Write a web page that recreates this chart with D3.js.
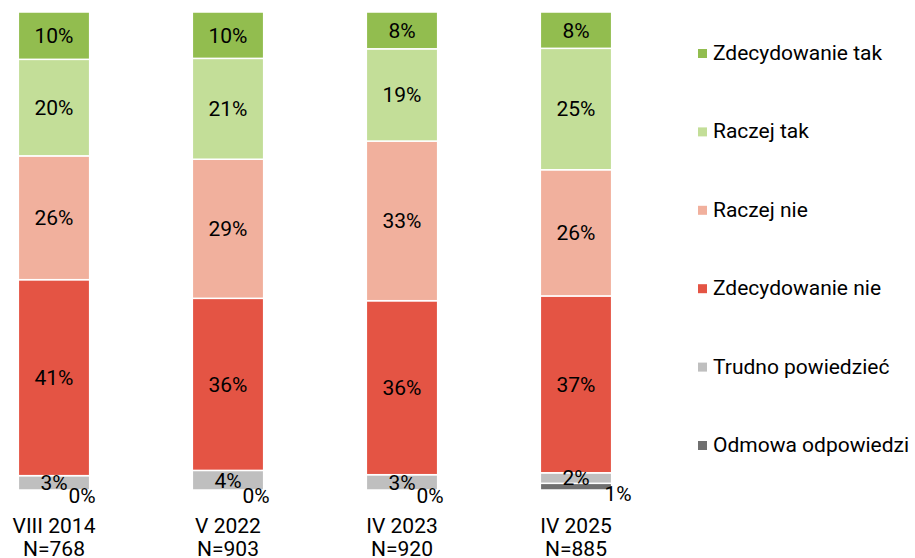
<!DOCTYPE html>
<html>
<head>
<meta charset="utf-8">
<script src="https://cdn.jsdelivr.net/npm/d3@7"></script>
<style>
  body { margin: 0; background: #fff; }
  svg { display: block; font-family: Roboto, sans-serif; }
</style>
</head>
<body>
<div id="chart"></div>
<script>
// survey waves (two-line labels)
const waves = ["VIII 2014", "V 2022", "IV 2023", "IV 2025"];
const samples = ["N=768", "N=903", "N=920", "N=885"];

const answers = ["Zdecydowanie tak", "Raczej tak", "Raczej nie", "Zdecydowanie nie", "Trudno powiedzieć", "Odmowa odpowiedzi"];

// shares in %, one array per answer, in wave order
const zdecydowanieTak = [9.9, 9.7, 7.7, 7.6];
const raczejTak       = [20.2, 21.1, 19.3, 25.4];
const raczejNie       = [25.9, 29.1, 33.4, 26.4];
const zdecydowanieNie = [41.0, 36.0, 36.4, 37.0];
const trudno          = [3.0, 4.1, 3.2, 2.2];
const odmowa          = [0.0, 0.0, 0.0, 1.4];

const colors = ["#92bd4f", "#c3de98", "#f1b09d", "#e45444", "#bfbfbf", "#707070"];

const width = 915, height = 558;
const fontSize = 21;

const rows = waves.map((w, i) => ({
  wave: w,
  n: samples[i],
  [answers[0]]: zdecydowanieTak[i],
  [answers[1]]: raczejTak[i],
  [answers[2]]: raczejNie[i],
  [answers[3]]: zdecydowanieNie[i],
  [answers[4]]: trudno[i],
  [answers[5]]: odmowa[i]
}));

// stack from the bottom: last answer first
const stackKeys = answers.slice().reverse();
const series = d3.stack().keys(stackKeys)(rows);

const x = d3.scaleBand()
  .domain(waves)
  .range([-33, 663])
  .paddingInner(0.59)
  .paddingOuter(0.295);

const y = d3.scaleLinear().domain([0, 100]).range([490, 12]);

const color = d3.scaleOrdinal().domain(answers).range(colors);
const fmt = v => d3.format(".0f")(v) + "%";

const svg = d3.select("#chart").append("svg")
  .attr("width", width)
  .attr("height", height);

const groups = svg.append("g")
  .selectAll("g")
  .data(series)
  .join("g")
    .attr("fill", d => color(d.key));

groups.selectAll("rect")
  .data(d => d)
  .join("rect")
    .attr("x", d => x(d.data.wave))
    .attr("width", x.bandwidth())
    .attr("y", d => y(d[1]))
    .attr("height", d => Math.max(0, y(d[0]) - y(d[1])))
    .attr("stroke", "#fff")
    .attr("stroke-width", 1.5);

// value labels
const labels = svg.append("g")
  .attr("font-size", fontSize)
  .attr("fill", "#000")
  .attr("text-anchor", "middle");

series.forEach(s => {
  s.forEach(p => {
    const v = p[1] - p[0];
    const cx = x(p.data.wave) + x.bandwidth() / 2;
    const small = v < 1.5;
    labels.append("text")
      .attr("x", small ? cx + (v > 0.5 ? 42 : 28) : cx)
      .attr("y", small ? y(p[0]) + (v > 0.5 ? 4 : 6) : (y(p[0]) + y(p[1])) / 2)
      .attr("dy", "0.35em")
      .text(fmt(v));
  });
});

// category axis
const axis = svg.append("g")
  .attr("font-size", fontSize)
  .attr("fill", "#000")
  .attr("text-anchor", "middle");

rows.forEach(r => {
  const cx = x(r.wave) + x.bandwidth() / 2;
  axis.append("text").attr("x", cx).attr("y", 533).text(r.wave);
  axis.append("text").attr("x", cx).attr("y", 556).text(r.n);
});

// legend
const legend = svg.append("g")
  .selectAll("g")
  .data(answers)
  .join("g")
    .attr("transform", (d, i) => `translate(698, ${60 + i * 78.4})`);

legend.append("rect")
  .attr("y", -11)
  .attr("width", 9)
  .attr("height", 9)
  .attr("fill", d => color(d));

legend.append("text")
  .attr("x", 15)
  .attr("font-size", fontSize)
  .attr("fill", "#000")
  .text(d => d);
</script>
</body>
</html>
